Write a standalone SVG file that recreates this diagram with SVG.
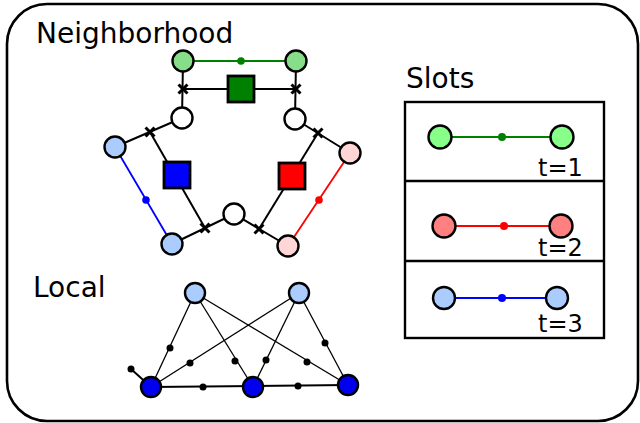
<svg xmlns="http://www.w3.org/2000/svg" width="640" height="423" viewBox="0 0 640 423">
  <defs>
    <style>
      .label { font-family: "DejaVu Sans", sans-serif; font-size: 28px; fill: #000; }
      .tlabel { font-family: "DejaVu Sans", sans-serif; font-size: 24px; fill: #000; }
      .node { stroke: #000; stroke-width: 2.4; }
      .sq { stroke: #000; stroke-width: 2.8; }
      .edge { stroke: #000; stroke-width: 2; fill: none; }
      .ledge { stroke: #000; stroke-width: 1.3; fill: none; }
      .star { stroke: #000; stroke-width: 3; fill: none; }
      .green { fill: #88dd88; }
      .lblue { fill: #aaccff; }
      .pink { fill: #ffd5d5; }
      .white { fill: #fff; }
      .dblue { fill: #0000ee; }
    </style>
    <g id="cross">
      <path class="star" d="M-4.5,-4.5 L4.5,4.5 M-4.5,4.5 L4.5,-4.5"/>
    </g>
  </defs>

  <!-- outer frame -->
  <rect x="7" y="4" width="631" height="417" rx="40" ry="40" fill="#fff" stroke="#000" stroke-width="2.6"/>

  <text class="label" x="36" y="43">Neighborhood</text>
  <text class="label" x="406" y="88">Slots</text>
  <text class="label" x="33" y="297">Local</text>

  <!-- connectors -->
  <g id="connectors">
    <!-- neighborhood: black edges -->
    <line class="edge" x1="183" y1="61" x2="182" y2="118"/>
    <line class="edge" x1="296" y1="61" x2="295" y2="119"/>
    <line class="edge" x1="183" y1="89" x2="296" y2="89"/>
    <line class="edge" x1="182" y1="118" x2="115" y2="147"/>
    <line class="edge" x1="150" y1="132" x2="205" y2="228"/>
    <line class="edge" x1="172" y1="244" x2="234" y2="214"/>
    <line class="edge" x1="295" y1="119" x2="350" y2="153"/>
    <line class="edge" x1="318" y1="133" x2="259" y2="229"/>
    <line class="edge" x1="234" y1="214" x2="288" y2="246"/>
    <!-- neighborhood: coloured edges -->
    <line x1="183" y1="61" x2="296" y2="61" stroke="#008000" stroke-width="1.8"/>
    <circle cx="241" cy="61" r="3.8" fill="#008000"/>
    <line x1="115" y1="147" x2="172" y2="244" stroke="#0000ff" stroke-width="1.8"/>
    <circle cx="146" cy="200" r="3.8" fill="#0000ff"/>
    <line x1="350" y1="153" x2="288" y2="246" stroke="#ff0000" stroke-width="1.8"/>
    <circle cx="319" cy="200" r="3.8" fill="#ff0000"/>
    <!-- crossing marks -->
    <use href="#cross" x="183" y="89"/>
    <use href="#cross" x="296" y="89"/>
    <use href="#cross" x="150" y="132"/>
    <use href="#cross" x="318" y="133"/>
    <use href="#cross" x="205" y="228"/>
    <use href="#cross" x="259" y="229"/>

    <!-- local edges -->
    <line class="ledge" x1="195" y1="293" x2="151" y2="387"/>
    <line class="ledge" x1="195" y1="293" x2="253" y2="387"/>
    <line class="ledge" x1="195" y1="293" x2="348" y2="385"/>
    <line class="ledge" x1="299" y1="293" x2="151" y2="387"/>
    <line class="ledge" x1="299" y1="293" x2="253" y2="387"/>
    <line class="ledge" x1="299" y1="293" x2="348" y2="385"/>
    <line class="edge" x1="151" y1="387" x2="348" y2="385"/>
    <line class="edge" x1="151" y1="387" x2="131" y2="369"/>
    <g fill="#000">
      <circle cx="170" cy="348" r="3.5"/>
      <circle cx="190" cy="363" r="3.5"/>
      <circle cx="235" cy="361" r="3.5"/>
      <circle cx="266" cy="360" r="3.5"/>
      <circle cx="307" cy="362" r="3.5"/>
      <circle cx="325" cy="343" r="3.5"/>
      <circle cx="203" cy="387" r="3.5"/>
      <circle cx="298" cy="386" r="3.5"/>
      <circle cx="131" cy="369" r="3.5"/>
    </g>
  </g>

  <!-- neighborhood nodes -->
  <g id="n-green-left"><circle class="node green" cx="183" cy="61" r="10.5"/></g>
  <g id="n-green-right"><circle class="node green" cx="296" cy="61" r="10.5"/></g>
  <g id="n-green-square"><rect class="sq" x="228" y="76" width="26" height="26" fill="#008000"/></g>
  <g id="n-white-left"><circle class="node white" cx="182" cy="118" r="10.5"/></g>
  <g id="n-white-right"><circle class="node white" cx="295" cy="119" r="10.5"/></g>
  <g id="n-white-bottom"><circle class="node white" cx="234" cy="214" r="10.5"/></g>
  <g id="n-blue-top"><circle class="node lblue" cx="115" cy="147" r="10.5"/></g>
  <g id="n-blue-bottom"><circle class="node lblue" cx="172" cy="244" r="10.5"/></g>
  <g id="n-blue-square"><rect class="sq" x="164" y="162" width="26" height="26" fill="#0000ff"/></g>
  <g id="n-pink-top"><circle class="node pink" cx="350" cy="153" r="10.5"/></g>
  <g id="n-pink-bottom"><circle class="node pink" cx="288" cy="246" r="10.5"/></g>
  <g id="n-red-square"><rect class="sq" x="279" y="163" width="26" height="26" fill="#ff0000"/></g>

  <!-- local nodes -->
  <g id="l-top-left"><circle class="node lblue" cx="195" cy="293" r="10"/></g>
  <g id="l-top-right"><circle class="node lblue" cx="299" cy="293" r="10"/></g>
  <g id="l-bottom-left"><circle class="node dblue" cx="151" cy="387" r="10"/></g>
  <g id="l-bottom-mid"><circle class="node dblue" cx="253" cy="387" r="10"/></g>
  <g id="l-bottom-right"><circle class="node dblue" cx="348" cy="385" r="10"/></g>

  <!-- slots panel -->
  <g id="slots">
    <rect x="405" y="102" width="199" height="236" fill="none" stroke="#000" stroke-width="2.4"/>
    <line x1="405" y1="181" x2="604" y2="181" stroke="#000" stroke-width="2.4"/>
    <line x1="405" y1="261" x2="604" y2="261" stroke="#000" stroke-width="2.4"/>
  </g>
  <g id="slot-1">
    <line x1="440" y1="137" x2="562" y2="137" stroke="#008000" stroke-width="2.2"/>
    <circle cx="502" cy="137" r="4" fill="#008000"/>
    <circle class="node" cx="440" cy="137" r="11.5" fill="#88ff88"/>
    <circle class="node" cx="562" cy="137" r="11.5" fill="#88ff88"/>
    <text class="tlabel" x="538" y="176">t=1</text>
  </g>
  <g id="slot-2">
    <line x1="444" y1="226" x2="561" y2="226" stroke="#ff0000" stroke-width="2.2"/>
    <circle cx="504" cy="226" r="4" fill="#ff0000"/>
    <circle class="node" cx="444" cy="226" r="11.5" fill="#ff8080"/>
    <circle class="node" cx="561" cy="226" r="11.5" fill="#ff8080"/>
    <text class="tlabel" x="538" y="256">t=2</text>
  </g>
  <g id="slot-3">
    <line x1="444" y1="298" x2="557" y2="298" stroke="#0000ff" stroke-width="2.2"/>
    <circle cx="502" cy="298" r="4" fill="#0000ff"/>
    <circle class="node" cx="444" cy="298" r="11" fill="#aaccff"/>
    <circle class="node" cx="557" cy="298" r="11" fill="#aaccff"/>
    <text class="tlabel" x="538" y="332">t=3</text>
  </g>
</svg>
